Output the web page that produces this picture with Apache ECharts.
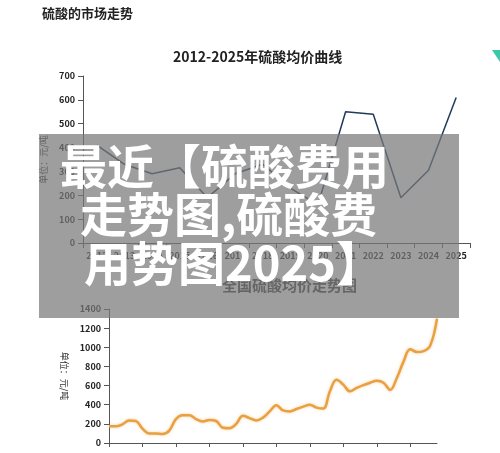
<!DOCTYPE html>
<html><head><meta charset="utf-8">
<script src="https://cdn.jsdelivr.net/npm/echarts@6/dist/echarts.min.js"></script>
<style>html,body{margin:0;padding:0;background:#fff}#c{width:500px;height:453px}</style>
</head><body><div id="c"></div>
<script>
const years = ['2012','2013','2014','2015','2016','2017','2018','2019','2020','2021','2022','2023','2024','2025'];
const avgPrice = [410,330,290,315,190,290,330,230,160,550,540,190,305,610];
const monthIdx = Array.from({length:50},(_, i)=>String(i));
const nationalPrice = [175,175,195,235,230,150,100,100,95,130,250,290,290,250,225,240,230,160,155,200,285,260,235,265,330,395,340,330,355,380,400,370,360,540,660,610,540,575,605,630,650,630,555,680,850,980,950,960,1020,1300];

const F = '"Noto Sans CJK SC", sans-serif';
const chart = echarts.init(document.getElementById('c'));
chart.setOption({
  animation:false,
  backgroundColor:'#fff',
  grid:[
    {left:83,right:30,top:76,height:167},
    {left:109,right:63,top:309,height:134}
  ],
  xAxis:[
    {gridIndex:0,type:'category',data:years,boundaryGap:['3%','3%'],axisLine:{lineStyle:{color:'#555'}},axisTick:{show:true,lineStyle:{color:'#555'}},
     axisLabel:{color:'#222',fontSize:9,fontWeight:'bold',fontFamily:F,interval:0}},
    {gridIndex:1,type:'category',data:monthIdx,boundaryGap:false,axisLine:{lineStyle:{color:'#555'}},axisTick:{show:true,interval:4,length:4,lineStyle:{color:'#555'}},
     axisLabel:{show:false}}
  ],
  yAxis:[
    {gridIndex:0,min:0,max:700,interval:100,splitLine:{show:false},axisLine:{show:true,lineStyle:{color:'#555'}},axisTick:{show:true},
     axisLabel:{color:'#222',fontSize:9,fontWeight:'bold',fontFamily:F,formatter:v=>String(v)},
     name:'单位：元/吨',nameLocation:'middle',nameGap:30,nameTextStyle:{fontSize:9,color:'#333',fontFamily:F}},
    {gridIndex:1,min:0,max:1400,interval:200,splitLine:{show:false},axisLine:{show:true,lineStyle:{color:'#555'}},axisTick:{show:true},
     axisLabel:{color:'#222',fontSize:9,fontWeight:'bold',fontFamily:F,formatter:v=>String(v)},
     name:'单位：元/吨',nameLocation:'middle',nameGap:28,nameRotate:-90,nameTextStyle:{fontSize:9,color:'#333',fontFamily:F}}
  ],
  series:[
    {type:'line',xAxisIndex:0,yAxisIndex:0,data:avgPrice,symbol:'none',lineStyle:{color:'#1f3a5a',width:1.5}},
    {type:'line',xAxisIndex:1,yAxisIndex:1,data:nationalPrice,symbol:'none',smooth:0.4,lineStyle:{color:'#e8a040',width:2.5,shadowColor:'rgba(232,160,64,0.5)',shadowBlur:3}}
  ],
  graphic:[
    {type:'text',left:42,top:7,style:{text:'硫酸的市场走势',font:'bold 13px '+F,fill:'#222'}},
    {type:'text',left:173,top:50,style:{text:'2012-2025年硫酸均价曲线',font:'bold 14px '+F,fill:'#222'}},
    {type:'text',left:222,top:278,style:{text:'全国硫酸均价走势图',font:'bold 15px '+F,fill:'#333'}},
    {type:'polygon',shape:{points:[[492,50],[500,50],[500,62]]},style:{fill:'#3cc8a8'}},
    {type:'rect',z:100,shape:{x:39,y:134,width:420,height:184},style:{fill:'rgba(120,120,120,0.72)'}},
    {type:'text',z:101,left:60,top:143,style:{text:'最近【硫酸费用',font:'bold 47px '+F,fill:'#fff'}},
    {type:'text',z:101,left:80,top:191,style:{text:'走势图,硫酸费',font:'bold 47px '+F,fill:'#fff'}},
    {type:'text',z:101,left:84,top:240,style:{text:'用势图2025】',font:'bold 47px '+F,fill:'#fff'}}
  ]
});
</script></body></html>
